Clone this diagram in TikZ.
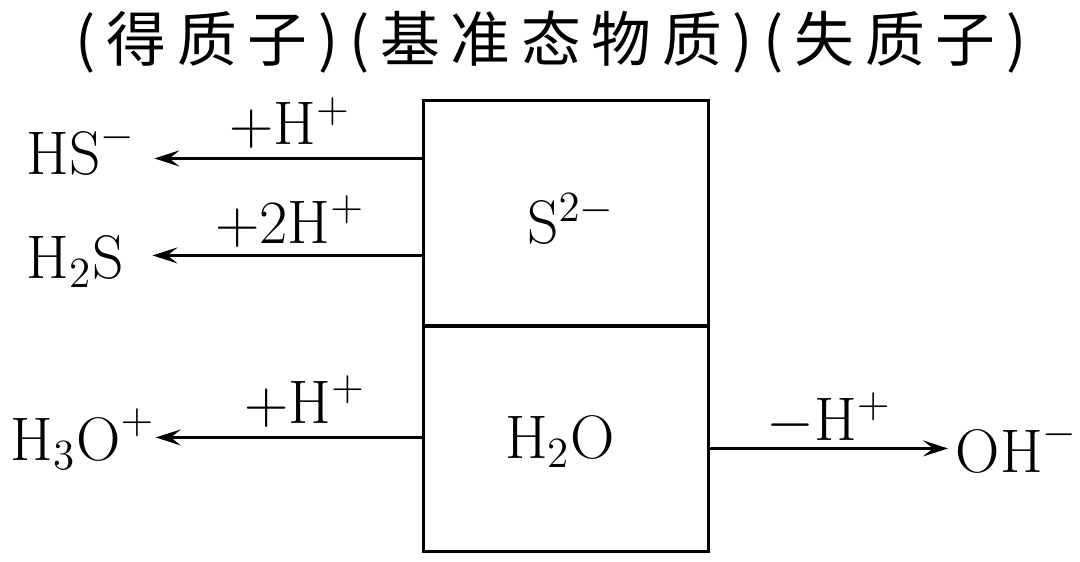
\documentclass[tikz,border=0pt]{standalone}
\usepackage{fix-cm}
\usepackage{fontspec}
\newfontfamily\cjk[LetterSpace=18]{Noto Sans CJK SC}
\usetikzlibrary{arrows.meta,positioning}
\tikzset{
  cell/.style={rectangle, draw=black, line width=0.85pt, minimum width=2.84cm,
               minimum height=2.25cm, inner sep=0pt},
  chem/.style={inner sep=0pt, font=\fontsize{17.5}{21}\selectfont},
  tag/.style={inner sep=0pt, anchor=base, font=\fontsize{17.5}{21}\selectfont},
  arr/.style={-{Stealth[length=2.5mm, width=1.6mm, inset=1mm]}, line width=0.8pt},
}
\begin{document}
\begin{tikzpicture}[x=0.01cm, y=-0.01cm]
\useasboundingbox (0,0) rectangle (1080,561);
% header
\node[font=\cjk\fontsize{17}{20}\selectfont] (head) at (551,42) {(得质子)(基准态物质)(失质子)};
% reference species
\node[cell] (upper) at (566,213.5) {};
\node[cell] (lower) at (566,438.5) {};
\node[chem, anchor=base] (sulf) at (571,244) {$\mathrm{S}^{2-}$};
\node[chem, anchor=base] (water) at (560,458) {$\mathrm{H_2O}$};
% products
\node[chem, anchor=base west] (hs) at (26,175) {$\mathrm{HS}^-$};
\node[chem, anchor=base west] (hhs) at (26,278) {$\mathrm{H_2S}$};
\node[chem, anchor=base west] (hhho) at (10,460) {$\mathrm{H_3O}^+$};
\node[chem, anchor=base west] (oh) at (955,472) {$\mathrm{OH}^-$};
% arrows
\path (upper.north west) ++(0,59) coordinate (g1);
\path (upper.north west) ++(0,156) coordinate (g2);
\path (lower.north west) ++(0,113) coordinate (g3);
\path (lower.north east) ++(0,124) coordinate (g4);
\draw[arr, shorten >=5pt] (g1) -- (g1 -| hs.east);
\draw[arr, shorten >=8pt] (g2) -- (g2 -| hhs.east);
\draw[arr] (g3) -- (g3 -| hhho.east);
\draw[arr, shorten >=2pt] (g4) -- (g4 -| oh.west);
\node[tag] (t1) at (290,145) {$+\mathrm{H}^+$};
\node[tag] (t2) at (290,243) {$+2\mathrm{H}^+$};
\node[tag] (t3) at (305,423) {$+\mathrm{H}^+$};
\node[tag] (t4) at (829,440) {$-\mathrm{H}^+$};
\end{tikzpicture}
\end{document}
